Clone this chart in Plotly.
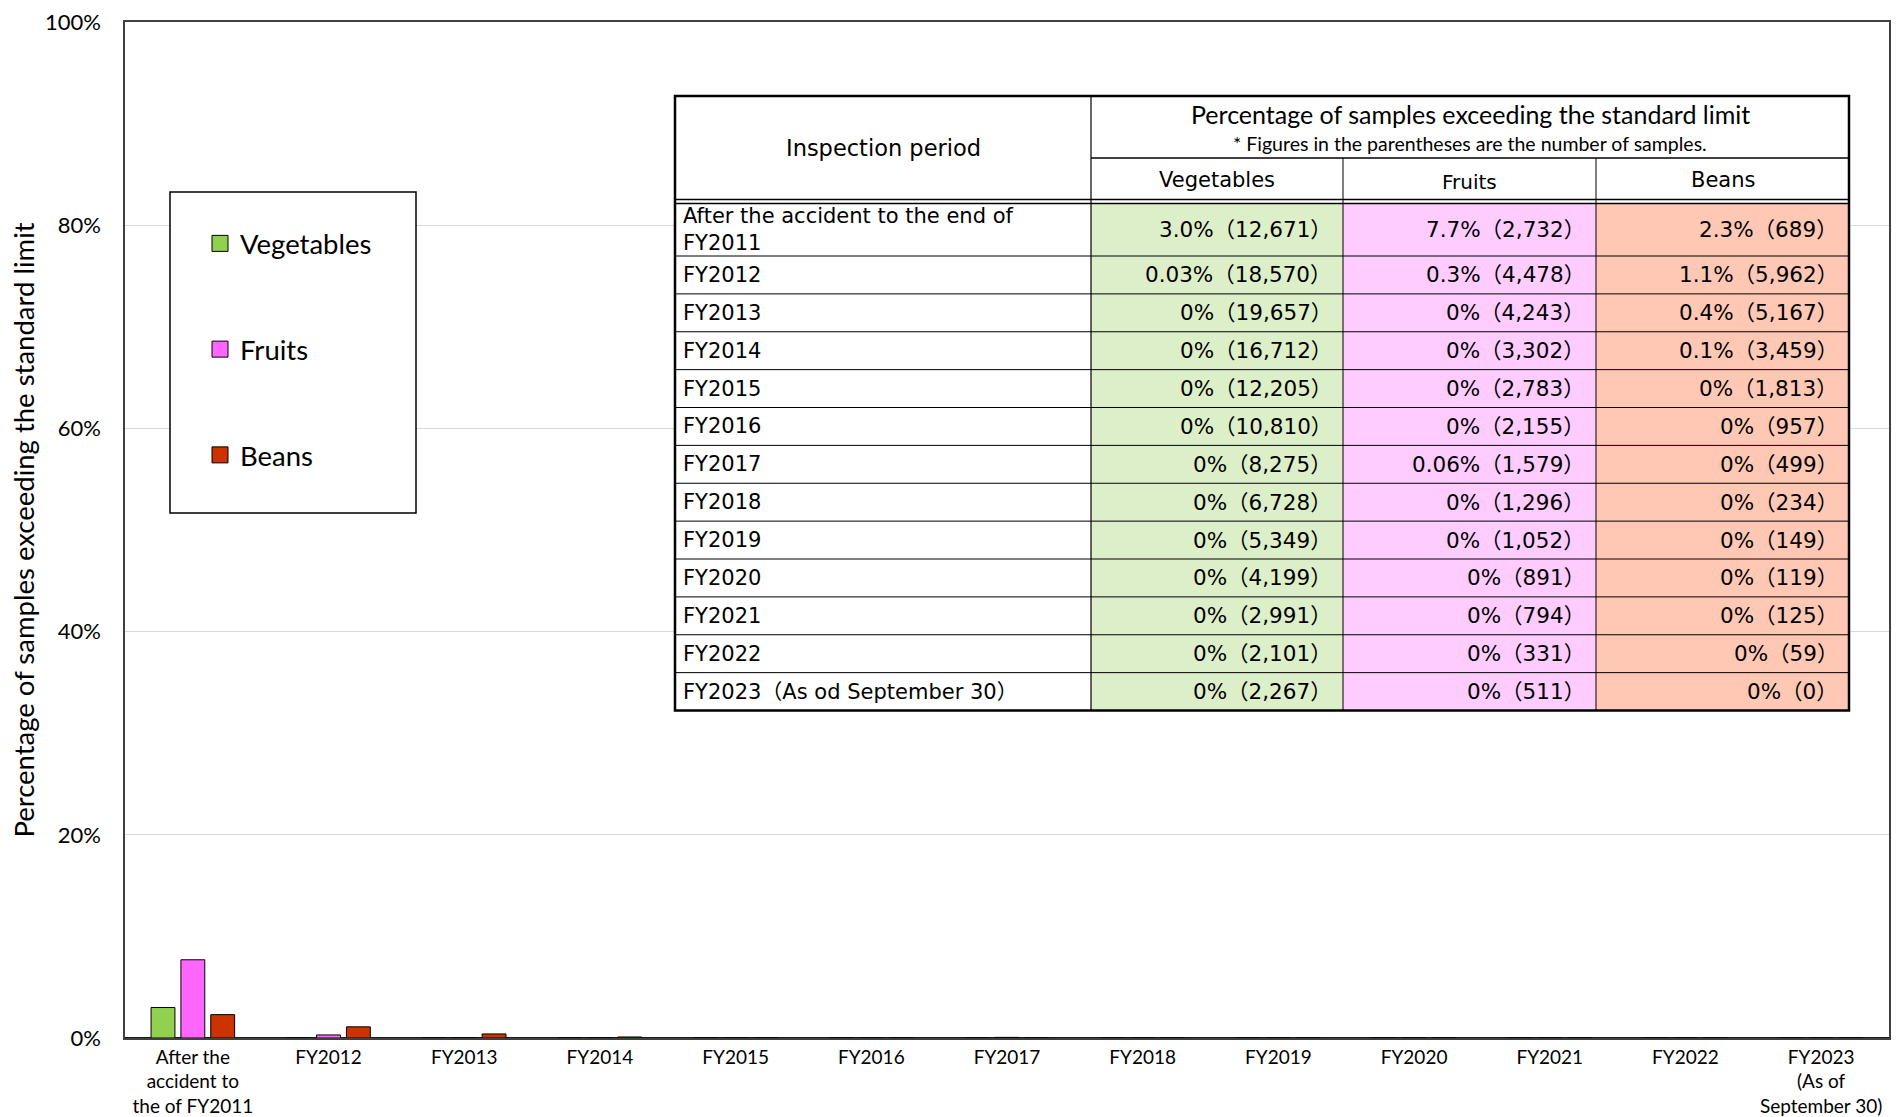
import plotly.graph_objects as go

# ---------------- data ----------------
categories = ["After the<br>accident to<br>the of FY2011", "FY2012", "FY2013", "FY2014", "FY2015",
              "FY2016", "FY2017", "FY2018", "FY2019", "FY2020", "FY2021", "FY2022",
              "FY2023<br>(As of<br>September 30)"]
table_periods = ["After the accident to the end of<br>FY2011", "FY2012", "FY2013", "FY2014", "FY2015",
                 "FY2016", "FY2017", "FY2018", "FY2019", "FY2020", "FY2021", "FY2022",
                 "FY2023（As od September 30）"]
series_names = ["Vegetables", "Fruits", "Beans"]
vegetables = [3.0, 0.03, 0, 0, 0, 0, 0, 0, 0, 0, 0, 0, 0]
fruits = [7.7, 0.3, 0, 0, 0, 0, 0.06, 0, 0, 0, 0, 0, 0]
beans = [2.3, 1.1, 0.4, 0.1, 0, 0, 0, 0, 0, 0, 0, 0, 0]
veg_samples = [12671, 18570, 19657, 16712, 12205, 10810, 8275, 6728, 5349, 4199, 2991, 2101, 2267]
fruit_samples = [2732, 4478, 4243, 3302, 2783, 2155, 1579, 1296, 1052, 891, 794, 331, 511]
bean_samples = [689, 5962, 5167, 3459, 1813, 957, 499, 234, 149, 119, 125, 59, 0]
y_ticks = [0, 20, 40, 60, 80, 100]
y_tick_labels = ["0%", "20%", "40%", "60%", "80%", "100%"]

bar_colors = ["#92D050", "#FF66FF", "#CC3300"]
cell_colors = ["#DDEFC9", "#FFCCFF", "#FFC8B4"]

W, H = 1901, 1117
PL, PR, PT, PB = 125, 1889, 22, 1038  # plot area in pixels

def px(x):
    return (x - PL) / (PR - PL)

def py(y):
    return (PB - y) / (PB - PT)

LAT = "Lato, Calibri, sans-serif"
TF = "DejaVu Sans, Noto Sans CJK JP, sans-serif"

fig = go.Figure()
for name, vals, col in zip(series_names, [vegetables, fruits, beans], bar_colors):
    fig.add_trace(go.Bar(x=categories, y=vals, name=name, marker=dict(color=col, line=dict(color="black", width=1)),
                         showlegend=False))
# legend proxies (larger square icons)
for name, col in zip(series_names, bar_colors):
    fig.add_trace(go.Scatter(x=[None], y=[None], mode="markers", name=name, legendgroup=name,
                             marker=dict(symbol="square", size=16, color=col, line=dict(color="black", width=1))))

shapes = []
annotations = []

# legend frame
shapes.append(dict(type="rect", xref="paper", yref="paper", x0=px(170), x1=px(416), y0=py(513), y1=py(192),
                   line=dict(color="black", width=1.5), fillcolor="white", layer="above"))

# ---------------- table ----------------
cols = [675, 1091, 1343, 1596, 1849]
t_top, h1_bot, h2_bot = 96, 158, 201.5
r1_bot = 256
n_rows = len(table_periods)
row_h = (710.5 - r1_bot) / (n_rows - 1)
row_edges = [h2_bot + 2, r1_bot] + [r1_bot + row_h * k for k in range(1, n_rows)]
t_bot = row_edges[-1]

def hline(y, x0, x1, w=1):
    shapes.append(dict(type="line", xref="paper", yref="paper", x0=px(x0), x1=px(x1), y0=py(y), y1=py(y),
                       line=dict(color="black", width=w), layer="above"))

def vline(x, y0, y1, w=1):
    shapes.append(dict(type="line", xref="paper", yref="paper", x0=px(x), x1=px(x), y0=py(y0), y1=py(y1),
                       line=dict(color="black", width=w), layer="above"))

shapes.append(dict(type="rect", xref="paper", yref="paper", x0=px(cols[0]), x1=px(cols[-1]), y0=py(t_bot), y1=py(t_top),
                   line=dict(width=0), fillcolor="white", layer="above"))
for c in range(3):
    shapes.append(dict(type="rect", xref="paper", yref="paper", x0=px(cols[c + 1]), x1=px(cols[c + 2]),
                       y0=py(t_bot), y1=py(h2_bot + 2), line=dict(width=0), fillcolor=cell_colors[c], layer="above"))
for y in row_edges[1:-1]:
    hline(y, cols[0], cols[-1], 1)
hline(h1_bot, cols[1], cols[-1], 1.5)
hline(h2_bot - 2, cols[0], cols[-1], 1.5)
hline(h2_bot + 2, cols[0], cols[-1], 1.5)
vline(cols[1], t_top, t_bot, 1.2)
vline(cols[2], h1_bot, t_bot, 1)
vline(cols[3], h1_bot, t_bot, 1)
shapes.append(dict(type="rect", xref="paper", yref="paper", x0=px(cols[0]), x1=px(cols[-1]), y0=py(t_bot), y1=py(t_top),
                   line=dict(color="black", width=2.5), fillcolor="rgba(0,0,0,0)", layer="above"))

def ann(text, x, y, size, font=TF, xanchor="center"):
    annotations.append(dict(text=text, x=px(x), y=py(y), xref="paper", yref="paper", showarrow=False,
                            xanchor=xanchor, yanchor="middle", align=xanchor if xanchor != "center" else "center",
                            font=dict(family=font, size=size, color="black")))

ann("Inspection period", (cols[0] + cols[1]) / 2, 148, 22.5)
ann("Percentage of samples exceeding the standard limit", (cols[1] + cols[-1]) / 2, 114, 25, LAT)
ann("* Figures in the parentheses are the number of samples.", (cols[1] + cols[-1]) / 2, 143, 19.5, LAT)
for c, name in enumerate(series_names):
    ann(name, (cols[c + 1] + cols[c + 2]) / 2, 180 + (2 if name == "Fruits" else 0), 21 if name != "Fruits" else 20)

for r in range(n_rows):
    yc = (row_edges[r] + row_edges[r + 1]) / 2
    ann(table_periods[r], cols[0] + 6, yc, 21, xanchor="left")
    for c, (vals, ns) in enumerate(zip([vegetables, fruits, beans], [veg_samples, fruit_samples, bean_samples])):
        ann(f"{vals[r]}%（{ns[r]:,}）", cols[c + 2] - 9, yc, 21.5, xanchor="right")

fig.update_layout(
    width=W, height=H,
    margin=dict(l=PL, r=W - PR, t=PT, b=H - PB, autoexpand=False),
    paper_bgcolor="white", plot_bgcolor="white",
    barmode="group", bargap=0.34, bargroupgap=0.2,
    font=dict(family=LAT, color="black"),
    shapes=shapes, annotations=annotations,
    showlegend=True,
    legend=dict(x=px(200), y=py(219), xanchor="left", yanchor="top", bgcolor="rgba(0,0,0,0)",
                borderwidth=0, font=dict(family=LAT, size=27.5), tracegroupgap=67, traceorder="grouped",
                itemsizing="trace"),
    xaxis=dict(showline=True, linecolor="#404040", linewidth=1.5, mirror=True, ticks="",
               tickfont=dict(family=LAT, size=19), showgrid=False, ticklabelstandoff=1),
    yaxis=dict(range=[0, 100], tickmode="array", tickvals=y_ticks, ticktext=y_tick_labels, showline=True,
               linecolor="#404040", linewidth=1.5, mirror=True, ticks="", showgrid=True, gridcolor="#D9D9D9",
               gridwidth=1, zeroline=True, zerolinecolor="#1a1a1a", zerolinewidth=2,
               tickfont=dict(family=LAT, size=22), ticklabelstandoff=18,
               title=dict(text="Percentage of samples exceeding the standard limit",
                          font=dict(family=LAT, size=27.5), standoff=2)),
)

fig.write_html("out.html", config={"displayModeBar": False},
               post_script="document.body.style.margin='0';document.body.style.overflow='hidden';")
